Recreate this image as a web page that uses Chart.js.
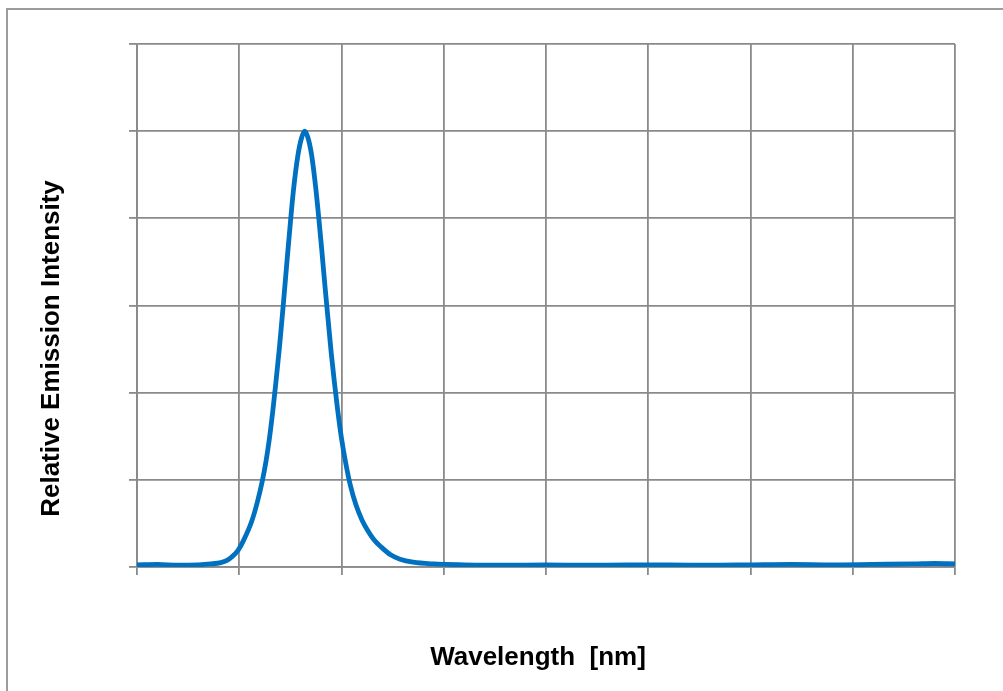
<!DOCTYPE html>
<html>
<head>
<meta charset="utf-8">
<script src="https://cdn.jsdelivr.net/npm/chart.js@4.4.1/dist/chart.umd.min.js"></script>
<style>
  html, body { margin: 0; padding: 0; background: #ffffff; overflow: hidden; }
  #wrap { position: relative; width: 1003px; height: 691px; }
  #frame { position: absolute; left: 6px; top: 8px; width: 1200px; height: 900px;
           border-left: 2.5px solid #9c9c9c; border-top: 2.5px solid #9c9c9c; }
  canvas { position: absolute; left: 0; top: 0; }
</style>
</head>
<body>
<div id="wrap">
  <div id="frame"></div>
  <canvas id="c" width="1003" height="691"></canvas>
</div>
<script>
// Wavelength samples (nm) and relative emission intensity
const wavelengths = [400,410,420,430,436,441,444,446.3,449.5,452,456.1,458.8,461.3,463.1,464.7,466.4,467.8,469.7,471.5,473.5,475,476.4,478.7,480.5,482,483.6,485.4,487.4,488.9,490.3,492,493.5,495,496.5,498,500,502,504.2,507.1,510,512.3,516,519.6,524,528.6,535,545,560,580,600,620,640,660,680,700,720,740,760,780,790,800];
const intensity   = [0.005,0.006,0.004,0.005,0.007,0.010,0.015,0.023,0.039,0.06,0.105,0.148,0.198,0.243,0.293,0.358,0.418,0.506,0.6,0.71,0.79,0.86,0.945,0.985,1.0,0.985,0.945,0.87,0.8,0.73,0.64,0.565,0.49,0.425,0.365,0.295,0.24,0.19,0.142,0.108,0.088,0.062,0.045,0.028,0.018,0.011,0.007,0.005,0.004,0.005,0.004,0.005,0.005,0.004,0.005,0.006,0.005,0.006,0.007,0.008,0.007];
const xTitle = 'Wavelength  [nm]';
const yTitle = 'Relative Emission Intensity';
const xMin = 400, xMax = 800, xStep = 50;
const yMin = 0, yMax = 1.2, yStep = 0.2;

const gridColor = '#8a8a8a';

const titlePlugin = {
  id: 'axisTitles',
  afterDraw(chart) {
    const ctx = chart.ctx;
    ctx.save();
    ctx.fillStyle = '#000000';
    ctx.font = 'bold 26px "Liberation Sans", Arial, sans-serif';
    ctx.textAlign = 'center';
    ctx.textBaseline = 'alphabetic';
    ctx.fillText(xTitle, 538, 665);
    ctx.translate(59, 348.5);
    ctx.rotate(-Math.PI / 2);
    ctx.fillText(yTitle, 0, 0);
    ctx.restore();
  }
};

new Chart(document.getElementById('c'), {
  type: 'line',
  data: {
    datasets: [{
      data: wavelengths.map((w, i) => ({ x: w, y: intensity[i] })),
      borderColor: '#0070C0',
      borderWidth: 4.8,
      pointRadius: 0,
      fill: false,
      cubicInterpolationMode: 'monotone'
    }]
  },
  options: {
    responsive: false,
    animation: false,
    devicePixelRatio: 1,
    layout: { padding: { left: 129, top: 44, right: 48, bottom: 116 } },
    plugins: { legend: { display: false }, tooltip: { enabled: false } },
    scales: {
      x: {
        type: 'linear', min: xMin, max: xMax,
        ticks: { display: false, stepSize: xStep },
        grid: { color: gridColor, lineWidth: 1.8, tickLength: 8, drawTicks: true },
        border: { color: gridColor, width: 1.8 }
      },
      y: {
        type: 'linear', min: yMin, max: yMax,
        ticks: { display: false, stepSize: yStep },
        grid: { color: gridColor, lineWidth: 1.8, tickLength: 8, drawTicks: true },
        border: { color: gridColor, width: 1.8 }
      }
    }
  },
  plugins: [titlePlugin]
});
</script>
</body>
</html>
